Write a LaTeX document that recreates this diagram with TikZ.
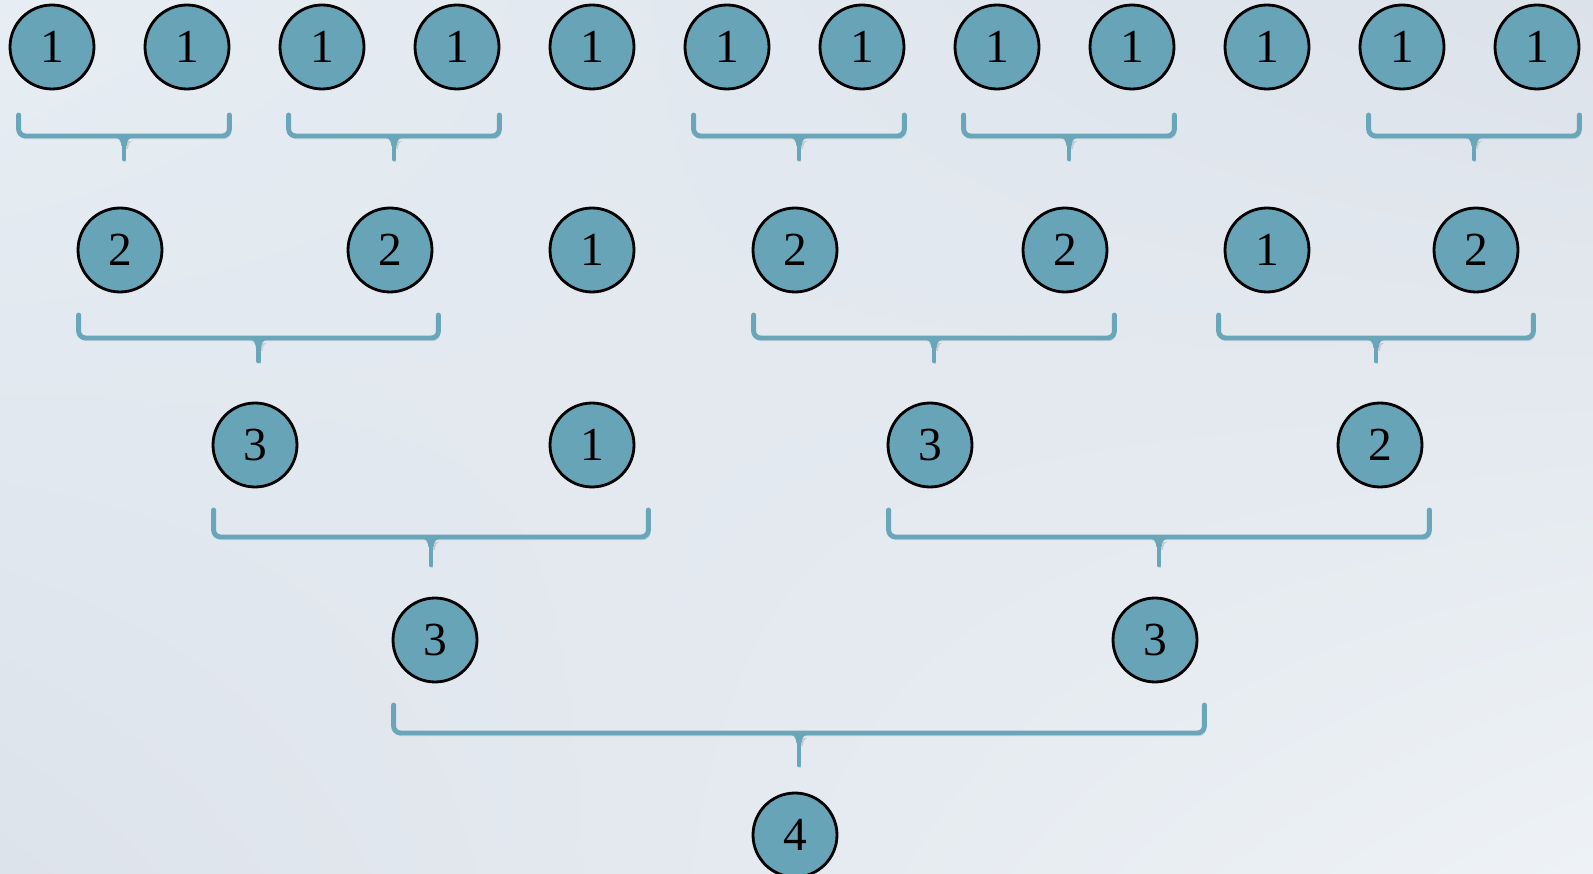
\documentclass[tikz,border=0pt]{standalone}
\usepackage{fontspec}
\setmainfont{Liberation Serif}
\usetikzlibrary{calc,shadings}

\definecolor{tealfill}{HTML}{68A4B8}
\definecolor{bracecol}{HTML}{6AA6BA}
\definecolor{bgtl}{HTML}{E6EDF3}
\definecolor{bgtr}{HTML}{DCE2EA}
\definecolor{bgbl}{HTML}{DDE3EB}
\definecolor{bgbr}{HTML}{EEF2F6}

\tikzset{
  num/.style={circle, draw=black, line width=1.6pt, fill=tealfill, minimum size=1.68cm, inner sep=0pt, font=\fontsize{27}{27}\selectfont},
  shadowed/.style={preaction={#1, opacity=0.3, transform canvas={shift={(0.8pt,-1.6pt)}}}},
  bracket/.style={draw=bracecol, line width=2.8pt, line cap=round, rounded corners=4pt, shadowed={draw=black!45}},
  flare/.style={fill=bracecol, shadowed={fill=black!45}}
}

% bracket under two nodes: shift left/right, top, height, tip length
\newcommand{\grp}[7]{%
  \coordinate (bl) at ($(#1.west)+(#3,#5)$);
  \coordinate (br) at ($(#2.east)+(#4,#5)$);
  \coordinate (bm) at ($(bl)!0.5!(br)$);
  \draw[bracket] (bl) -- ++(0,#6) -| (br);
  \fill[flare] ($(bm)+(-8,#6+2)$) to[out=0,in=90] ($(bm)+(-2.6,#6+10)$)
    -- ($(bm)+(2.6,#6+10)$) to[out=90,in=180] ($(bm)+(8,#6+2)$) -- cycle;
  \draw[bracket] ($(bm)+(0,#6+4)$) -- ($(bm)+(0,#6+#7)$);
}

\begin{document}
\begin{tikzpicture}[x=0.02cm, y=-0.02cm]
\useasboundingbox (0,0) rectangle (1593,874);
\shade[upper left=bgtl, upper right=bgtr, lower left=bgbl, lower right=bgbr] (0,0) rectangle (1593,874);

% top row
\foreach \i in {1,...,12}
  \node[num] (t\i) at ({52+135*(\i-1)},47) {1};

\node[num] (s1) at (120,250) {2};
\node[num] (s2) at (390,250) {2};
\node[num] (s3) at (592,250) {1};
\node[num] (s4) at (795,250) {2};
\node[num] (s5) at (1065,250) {2};
\node[num] (s6) at (1267,250) {1};
\node[num] (s7) at (1476,250) {2};

\node[num] (u1) at (255,445) {3};
\node[num] (u2) at (592,445) {1};
\node[num] (u3) at (930,445) {3};
\node[num] (u4) at (1380,445) {2};

\node[num] (v1) at (435,640) {3};
\node[num] (v2) at (1155,640) {3};

\node[num] (w) at (795,835) {4};

\grp{t1}{t2}{10}{-1}{68}{21}{23}
\grp{t3}{t4}{10}{-1}{68}{21}{23}
\grp{t6}{t7}{10}{-1}{68}{21}{23}
\grp{t8}{t9}{10}{-1}{68}{21}{23}
\grp{t11}{t12}{10}{-1}{68}{21}{23}

\grp{s1}{s2}{2}{5}{65}{23}{23}
\grp{s4}{s5}{2}{6}{65}{23}{23}
\grp{s6}{s7}{-5}{14}{65}{23}{23}

\grp{u1}{u2}{2}{13}{65}{27}{28}
\grp{u3}{u4}{2}{6}{65}{27}{28}

\grp{v1}{v2}{2}{6}{65}{28}{32}
\end{tikzpicture}
\end{document}
